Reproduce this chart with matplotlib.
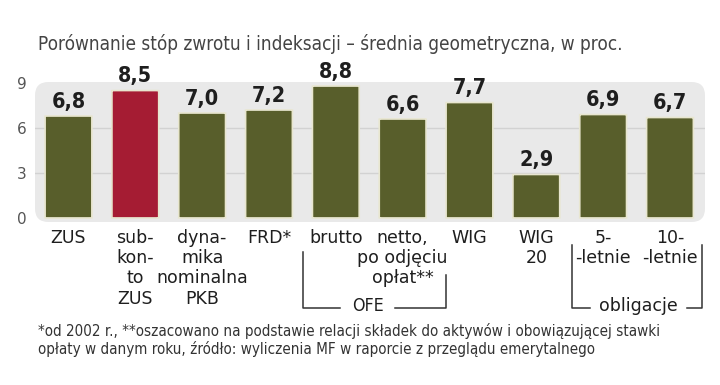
import numpy as np
import matplotlib
matplotlib.use("Agg")
import matplotlib.pyplot as plt
from matplotlib.patches import FancyBboxPatch

# dane
labels = ["ZUS", "sub-\nkon-\nto\nZUS", "dyna-\nmika\nnominalna\nPKB", "FRD*", "brutto",
          "netto,\npo odjęciu\nopłat**", "WIG", "WIG\n20", "5-\n-letnie", "10-\n-letnie"]
values = [6.8, 8.5, 7.0, 7.2, 8.8, 6.6, 7.7, 2.9, 6.9, 6.7]
highlight = [False, True, False, False, False, False, False, False, False, False]
yticks = [0, 3, 6, 9]
title = "Porównanie stóp zwrotu i indeksacji – średnia geometryczna, w proc."
footnote = ("*od 2002 r., **oszacowano na podstawie relacji składek do aktywów i obowiązującej stawki\n"
            "opłaty w danym roku, źródło: wyliczenia MF w raporcie z przeglądu emerytalnego")

olive = "#585e2b"
red = "#a51c33"
txt = "#1e1e1e"

plt.rcParams['font.family'] = ['DejaVu Sans']

W, H = 720, 385
fig = plt.figure(figsize=(7.2, 3.85), dpi=100)
# osie w pikselach: panel od x=35 do 705, od y=82 do 222
ax = fig.add_axes([35 / W, (H - 222) / H, 670 / W, 140 / H])
x = np.arange(len(values))
ax.set_xlim(-0.501, 9.524)
ax.set_ylim(-0.27, 9.07)

# tlo panelu
panel = FancyBboxPatch((0, 0), 1, 1, boxstyle="round,pad=0,rounding_size=0.02",
                       mutation_aspect=670 / 140, transform=ax.transAxes,
                       facecolor="#e9e9e9", edgecolor="none", zorder=0)
ax.add_patch(panel)
for g in [3, 6]:
    ax.axhline(g, color="#d2d2d2", lw=1, zorder=1)

bars = ax.bar(x, values, width=0.7, color=olive)
asp = (66.83 / 15.0)
for b, hl in zip(bars, highlight):
    bx, by, bw, bh = b.get_x(), b.get_y(), b.get_width(), b.get_height()
    b.remove()
    p = FancyBboxPatch((bx, by), bw, bh, boxstyle="round,pad=0,rounding_size=0.05",
                       mutation_aspect=1 / asp, facecolor=red if hl else olive,
                       edgecolor="#e8e6cf", lw=1.2, zorder=3)
    ax.add_patch(p)

for xi, v in zip(x, values):
    ax.annotate(f"{v:.1f}".replace(".", ","), (xi, v), xytext=(0, 6), textcoords="offset points",
                ha="center", va="baseline", fontsize=15.5, fontweight="bold",
                fontstretch="condensed", color=txt)

ax.set_xticks(x)
ax.set_xticklabels(labels, fontsize=12.5, color=txt, linespacing=1.16)
ax.set_yticks(yticks)
ax.set_yticklabels([str(t) for t in yticks], fontsize=11, color="#555555")
ax.tick_params(axis="x", length=0, pad=5)
ax.tick_params(axis="y", length=0, pad=6)
for s in ax.spines.values():
    s.set_visible(False)

# klamry grup
def py(p):
    return (218 - p) / 15.0

def px(p):
    return (p - 68.5) / 66.83

kw = dict(color="#333333", lw=1.1, clip_on=False)
ax.plot([px(303), px(303), px(340)], [py(252), py(308), py(308)], **kw)
ax.plot([px(395), px(446), px(446)], [py(308), py(308), py(275)], **kw)
ax.text(px(368), py(306), "OFE", ha="center", va="center", fontsize=12.8, color=txt,
        fontstretch="condensed")
ax.plot([px(572), px(572), px(590)], [py(245), py(308), py(308)], **kw)
ax.plot([px(687), px(702), px(702)], [py(308), py(308), py(245)], **kw)
ax.text(px(638), py(306), "obligacje", ha="center", va="center", fontsize=12.5, color=txt)

fig.text(38 / W, 1 - 44 / H, title, ha="left", va="center", fontsize=13.6,
         fontstretch="condensed", color="#444444")
fig.text(38 / W, 1 - 340 / H, footnote, ha="left", va="center", fontsize=10.9,
         fontstretch="condensed", color="#333333", linespacing=1.15)

fig.savefig("out.png", dpi=100)
